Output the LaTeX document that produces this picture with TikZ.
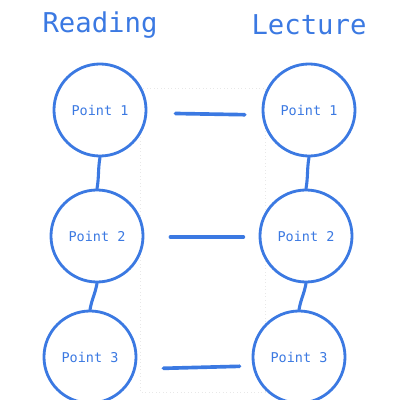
\documentclass[tikz,border=0pt]{standalone}
\usepackage{fontspec}
\setmonofont{DejaVu Sans Mono}
\usetikzlibrary{calc}
\definecolor{pen}{RGB}{59,121,226}
\begin{document}
\begin{tikzpicture}[x=0.025cm,y=-0.025cm,
  pt/.style={circle,draw=pen,line width=2pt,fill=white,minimum size=2.3cm,inner sep=0pt,text=pen,font=\ttfamily\fontsize{9.6}{11}\selectfont},
  head/.style={anchor=base,text=pen,font=\ttfamily\fontsize{19.4}{22}\selectfont},
  ink/.style={draw=pen,line width=2.6pt,line cap=round}]
\useasboundingbox(0,0)rectangle(400,400);
\draw[gray!18,dotted,line width=0.5pt](140,88)rectangle(265,392);
\node[head](rd)at(100,33){Reading};
\node[head](lc)at(309,35){Lecture};
\foreach \i/\xl/\xr/\y in{1/100/309/110,2/97/306/236,3/90/299/357}{
\node[pt](l\i)at(\xl,\y){Point \i};
\node[pt](r\i)at(\xr,\y){Point \i};}
\foreach \i/\j in{1/2,2/3}
\draw[ink,line width=2.2pt](l\i.south)to[out=-100,in=80](l\j.north)(r\i.south)to[out=-100,in=80](r\j.north);
\foreach \i/\a/\b/\s/\t in{1/3/5/0.7cm/0.42cm,2/1/1/0.65cm/0.38cm,3/12/9/0.65cm/0.3cm}
\draw[ink,shorten <=\s,shorten >=\t]($(l\i.east)+(0,\a)$)--($(r\i.west)+(0,\b)$);
\end{tikzpicture}
\end{document}
